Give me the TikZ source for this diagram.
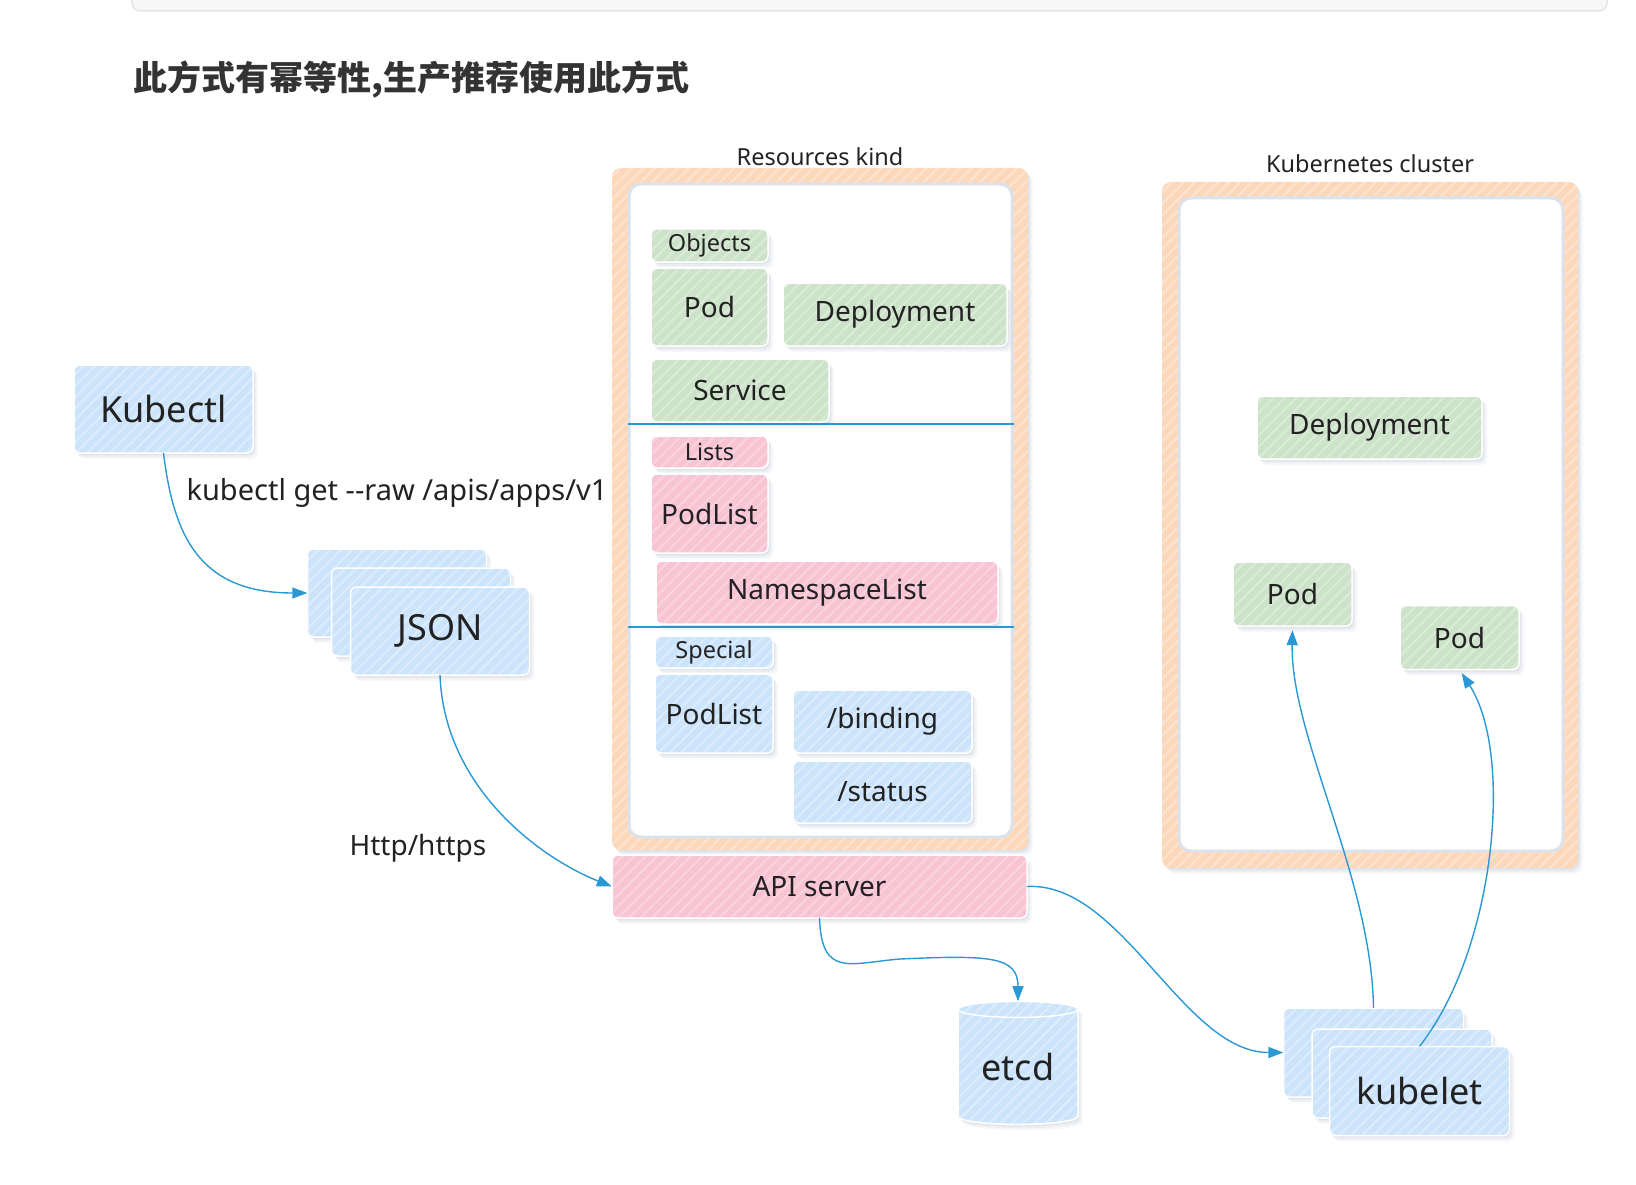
\documentclass[tikz,border=0pt]{standalone}
\usepackage{fontspec}
\setmainfont{Noto Sans}
\newfontfamily\cjk{Noto Sans CJK SC}
\usetikzlibrary{arrows.meta,shapes.geometric,patterns.meta,shadows}
\definecolor{txt}{HTML}{222222}
\definecolor{ttl}{HTML}{333333}
\definecolor{bluefill}{HTML}{CBE3FB}
\definecolor{bluestripe}{HTML}{DBECFD}
\definecolor{greenfill}{HTML}{CCE3C9}
\definecolor{greenstripe}{HTML}{DAEBD7}
\definecolor{pinkfill}{HTML}{F8C4D3}
\definecolor{pinkstripe}{HTML}{FBD3DE}
\definecolor{orfill}{HTML}{FDD7BA}
\definecolor{orstripe}{HTML}{FEE4D0}
\definecolor{innerline}{HTML}{DCE2EA}
\definecolor{edge}{HTML}{2A98D5}
\definecolor{bannerfill}{HTML}{F7F7F7}
\definecolor{bannerline}{HTML}{E4E4E9}
\definecolor{shadowcol}{HTML}{5A6E8C}
\tikzset{
  every node/.style={text=txt, font=\fontsize{28}{32}\selectfont},
  big/.style={font=\fontsize{36}{40}\selectfont},
  small/.style={font=\fontsize{23.5}{27}\selectfont},
  softshadow/.style={
    general shadow={shadow xshift=5pt, shadow yshift=-6pt, fill=shadowcol, opacity=0.05},
    general shadow={shadow xshift=3pt, shadow yshift=-4pt, fill=shadowcol, opacity=0.07},
    general shadow={shadow xshift=1.5pt, shadow yshift=-2pt, fill=shadowcol, opacity=0.08}},
  box/.style={rounded corners=6pt, inner sep=0pt, anchor=center, softshadow},
  bluebox/.style={box, fill=bluefill, postaction={pattern={Lines[angle=45,distance=8pt,line width=2.2pt]}, pattern color=bluestripe}, postaction={draw=white,line width=1.5pt}},
  greenbox/.style={box, fill=greenfill, postaction={pattern={Lines[angle=45,distance=8pt,line width=2.2pt]}, pattern color=greenstripe}, postaction={draw=white,line width=1.5pt}},
  pinkbox/.style={box, fill=pinkfill, postaction={pattern={Lines[angle=45,distance=8pt,line width=2.2pt]}, pattern color=pinkstripe}, postaction={draw=white,line width=1.5pt}},
  frameout/.style={rounded corners=9pt, inner sep=0pt, fill=orfill, softshadow, postaction={pattern={Lines[angle=45,distance=8pt,line width=2.2pt]}, pattern color=orstripe}},
  framein/.style={rounded corners=12pt, inner sep=0pt, fill=white, draw=innerline, line width=3pt},
  conn/.style={draw=edge, line width=1.4pt},
  arr/.style={conn, -{Triangle[length=15pt,width=11pt]}},
}
\begin{document}
\begin{tikzpicture}[x=1pt,y=-1pt]
\useasboundingbox (0,0) rectangle (1636,1185);
% banner
\draw[fill=bannerfill, draw=bannerline, line width=1.5pt, rounded corners=8pt] (132,-30) rectangle (1607,11);
\node[anchor=west, text=ttl, font=\cjk\bfseries\fontsize{34}{40}\selectfont] (title) at (130,80) {此方式有幂等性,生产推荐使用此方式};

% Resources kind frame
\node[frameout, minimum width=416pt, minimum height=682pt] (rkout) at (820,509) {};
\node[framein, minimum width=383pt, minimum height=653pt] (rkin) at (820.5,510.5) {};
\node[small] (rklabel) at (820,157) {Resources kind};

% Kubernetes cluster frame
\node[frameout, minimum width=416pt, minimum height=686pt] (kcout) at (1370,525) {};
\node[framein, minimum width=384pt, minimum height=653pt] (kcin) at (1371,524.5) {};
\node[small] (kclabel) at (1370,164) {Kubernetes cluster};

% separators
\draw[edge, line width=1.5pt] (rkin.west |- 0,424) -- (rkin.east |- 0,424);
\draw[edge, line width=1.5pt] (rkin.west |- 0,627) -- (rkin.east |- 0,627);

% Objects
\node[greenbox, small, minimum width=117pt, minimum height=33pt] (objects) at (709.5,245.5) {Objects};
\node[greenbox, minimum width=117pt, minimum height=78pt] (pod) at (709.5,307) {Pod};
\node[greenbox, minimum width=224pt, minimum height=63pt] (deploy) at (895,314.5) {Deployment};
\node[greenbox, minimum width=178pt, minimum height=63pt] (service) at (740,390.5) {Service};

% Lists
\node[pinkbox, small, minimum width=117pt, minimum height=32pt] (lists) at (709.5,452) {Lists};
\node[pinkbox, minimum width=117pt, minimum height=79pt] (podlist) at (709.5,513.5) {PodList};
\node[pinkbox, minimum width=342pt, minimum height=63pt] (nslist) at (827,592.5) {NamespaceList};

% Special
\node[bluebox, small, minimum width=118pt, minimum height=32pt] (special) at (714,652) {Special};
\node[bluebox, minimum width=118pt, minimum height=79pt] (podlist2) at (714,713.5) {PodList};
\node[bluebox, minimum width=179pt, minimum height=63pt] (binding) at (882.5,721.5) {/binding};
\node[bluebox, minimum width=179pt, minimum height=62pt] (status) at (882.5,792) {/status};

% API server
\node[pinkbox, minimum width=415pt, minimum height=63pt] (api) at (819.5,886.5) {API server};

% cluster contents
\node[greenbox, minimum width=225pt, minimum height=63pt] (cdeploy) at (1369.5,427.5) {Deployment};
\node[greenbox, minimum width=119pt, minimum height=64pt] (pod1) at (1292.5,594) {Pod};
\node[greenbox, minimum width=119pt, minimum height=64pt] (pod2) at (1459.5,637.5) {Pod};

% Kubectl and JSON
\node[bluebox, big, minimum width=179pt, minimum height=88pt] (kubectl) at (163.5,409) {Kubectl};
\node[bluebox, minimum width=179pt, minimum height=88pt] (jsonback) at (397,593) {};
\node[bluebox, minimum width=179pt, minimum height=88pt] (jsonmid) at (421,612) {};
\node[bluebox, big, minimum width=179pt, minimum height=88pt] (json) at (440,631) {JSON};

% etcd
\node[shape=cylinder, shape border rotate=90, aspect=0.22, fill=bluefill, softshadow,
      postaction={pattern={Lines[angle=45,distance=8pt,line width=2.2pt]}, pattern color=bluestripe},
      postaction={draw=white,line width=1.5pt},
      minimum width=120pt, minimum height=123pt, inner sep=0pt, big] (etcd) at (1018,1067) {etcd};

% kubelet
\node[bluebox, minimum width=180pt, minimum height=89pt] (kubeback) at (1373.5,1052.5) {};
\node[bluebox, minimum width=180pt, minimum height=89pt] (kubemid) at (1402,1073.5) {};
\node[bluebox, big, minimum width=180pt, minimum height=89pt] (kubelet) at (1419.5,1091) {kubelet};

% labels
\node[anchor=west, font=\fontsize{29}{33}\selectfont] (getlabel) at (183,493) {kubectl get {-}{-}raw /apis/apps/v1};
\node (httplabel) at (418,848) {Http/https};

% connectors
\draw[arr] (kubectl.south) .. controls +(10,80) and +(-110,0) .. (jsonback.west);
\draw[arr] (json.south) .. controls +(4,110) and +(-75,-30) .. (api.west);
\coordinate (etcdmid) at (900,959);
\draw[arr] (api.south) .. controls +(2,60) and +(-50,4) .. (etcdmid) .. controls +(90,-4) and +(0,-45) .. (etcd.north);
\draw[arr] (api.east) .. controls +(95,-5) and +(-100,0) .. (kubeback.west);
\draw[arr, shorten >=4pt] (kubeback.north) .. controls +(-2,-130) and +(-2,110) .. (pod1.south);
\draw[arr, shorten >=4pt] (kubelet.north) .. controls +(75,-95) and +(55,85) .. (pod2.south);
\end{tikzpicture}
\end{document}
